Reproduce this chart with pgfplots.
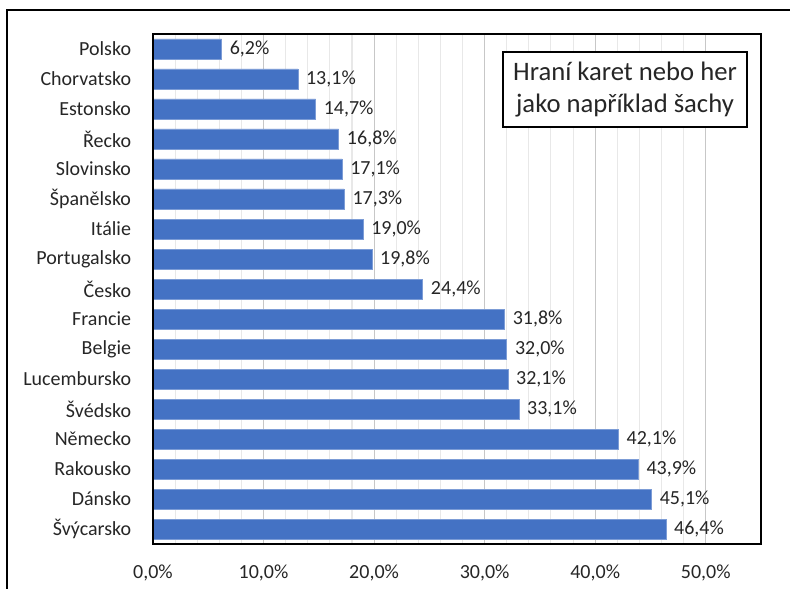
\documentclass[border=0pt]{standalone}
\usepackage{pgfplots}
\pgfplotsset{compat=1.18}
\usepackage{fontspec}
\setmainfont{Carlito}
\definecolor{barblue}{HTML}{4472C4}
\definecolor{txt}{HTML}{262626}
\begin{document}
\begin{tikzpicture}
\useasboundingbox (0,0) rectangle (592.5pt,441.75pt);
\draw[line width=1.5pt] (5.25pt,0) -- (5.25pt,434.25pt) -- (593pt,434.25pt);
\begin{axis}[
  name=ax,
  at={(114.75pt,33.75pt)}, anchor=south west,
  width=456pt, height=382.5pt, scale only axis,
  xbar, bar width=15pt,
  xmin=0, xmax=55,
  ymin=-0.5, ymax=16.5, y dir=reverse,
  ytick={0,...,16},
  yticklabels={Polsko,Chorvatsko,Estonsko,Řecko,Slovinsko,Španělsko,Itálie,Portugalsko,Česko,Francie,Belgie,Lucembursko,Švédsko,Německo,Rakousko,Dánsko,Švýcarsko},
  xtick={0,10,20,30,40,50},
  xticklabels={{0,0\%},{10,0\%},{20,0\%},{30,0\%},{40,0\%},{50,0\%}},
  minor x tick num=4,
  xmajorgrids, xminorgrids,
  major grid style={draw=black!22, line width=0.8pt},
  minor grid style={draw=black!9, line width=0.8pt},
  tick style={draw=none},
  axis line style={line width=1.2pt, black},
  tick label style={font=\fontsize{15}{18}\selectfont, text=txt, inner sep=0pt},
  yticklabel style={anchor=east, xshift=-12pt},
  xticklabel style={anchor=base, yshift=-25.5pt},
  /pgf/number format/assume math mode=true,
  point meta=x,
  nodes near coords={\pgfmathprintnumber[fixed, fixed zerofill, precision=1, use comma]{\pgfplotspointmeta}\%},
  nodes near coords style={font=\fontsize{15}{18}\selectfont, text=txt, anchor=west, inner sep=0pt, xshift=6pt},
]
\addplot[fill=barblue, draw=barblue!70!white, line width=0.4pt] coordinates {
(6.2,0) (13.1,1) (14.7,2) (16.8,3) (17.1,4) (17.3,5) (19.0,6) (19.8,7) (24.4,8)
(31.8,9) (32.0,10) (32.1,11) (33.1,12) (42.1,13) (43.9,14) (45.1,15) (46.4,16)
};
\end{axis}
\draw[line width=1.2pt] (ax.south west) rectangle (ax.north east);
\node[draw, line width=1.2pt, fill=white, align=center, minimum width=183pt, minimum height=56pt, inner sep=0pt,
  font=\fontsize{20}{24}\selectfont, text=txt] at (468.75pt,374.6pt) {Hraní karet nebo her\\jako například šachy};
\end{tikzpicture}
\end{document}
